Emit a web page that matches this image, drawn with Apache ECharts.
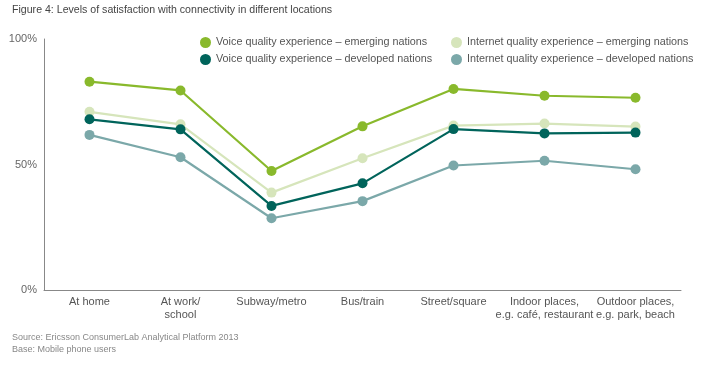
<!DOCTYPE html>
<html>
<head>
<meta charset="utf-8">
<script src="https://cdn.jsdelivr.net/npm/echarts@6/dist/echarts.min.js"></script>
<style>
html,body{margin:0;padding:0;background:#fff;}
#chart{width:717px;height:371px;}
</style>
</head>
<body>
<div id="chart"></div>
<script>
var categories = ['At home', 'At work/\nschool', 'Subway/metro', 'Bus/train', 'Street/square', 'Indoor places,\ne.g. café, restaurant', 'Outdoor places,\ne.g. park, beach'];
var voiceEmerging = [83, 79.5, 47.4, 65.2, 80.1, 77.4, 76.6];
var internetEmerging = [71, 66, 38.8, 52.5, 65.5, 66.3, 65.1];
var voiceDeveloped = [68, 64, 33.5, 42.5, 64.1, 62.4, 62.7];
var internetDeveloped = [61.8, 52.9, 28.6, 35.4, 49.6, 51.5, 48.1];
var yTicks = ['0%', '50%', '100%'];

var names = {
  ve: 'Voice quality experience – emerging nations',
  vd: 'Voice quality experience – developed nations',
  ie: 'Internet quality experience – emerging nations',
  id: 'Internet quality experience – developed nations'
};
var colors = {ve: '#89b92c', ie: '#d6e5bb', vd: '#00645b', id: '#7ba8a9'};

function mk(key, data) {
  return {
    name: names[key], type: 'line', data: data,
    symbol: 'circle', symbolSize: 10,
    itemStyle: {color: colors[key]},
    lineStyle: {color: colors[key], width: 2.2},
    emphasis: {disabled: true}, animation: false
  };
}

var chart = echarts.init(document.getElementById('chart'), null, {renderer: 'canvas'});
var legendText = {color: '#555', fontSize: 10.8, fontFamily: 'Liberation Sans, Arial, sans-serif'};
chart.setOption({
  animation: false,
  title: [
    {text: 'Figure 4: Levels of satisfaction with connectivity in different locations', left: 7, top: 0,
     textStyle: {fontSize: 10.6, fontWeight: 'normal', color: '#444', fontFamily: 'Liberation Sans, Arial, sans-serif'}},
    {text: 'Source: Ericsson ConsumerLab Analytical Platform 2013\nBase: Mobile phone users', left: 7, top: 327,
     textStyle: {fontSize: 9, fontWeight: 'normal', color: '#888', lineHeight: 11.5, fontFamily: 'Liberation Sans, Arial, sans-serif'}}
  ],
  legend: [
    {left: 195, top: 32, orient: 'vertical', itemGap: 6, icon: 'circle', itemWidth: 11, itemHeight: 11,
     data: [names.ve, names.vd], textStyle: legendText, selectedMode: false},
    {left: 446, top: 32, orient: 'vertical', itemGap: 6, icon: 'circle', itemWidth: 11, itemHeight: 11,
     data: [names.ie, names.id], textStyle: legendText, selectedMode: false}
  ],
  grid: {left: 44, top: 39, right: 36, bottom: 81, containLabel: false},
  xAxis: {
    type: 'category', data: categories, boundaryGap: true,
    axisLine: {lineStyle: {color: '#888', width: 1}},
    axisTick: {show: false},
    axisLabel: {color: '#555', fontSize: 11, margin: 5, lineHeight: 13, interval: 0,
      fontFamily: 'Liberation Sans, Arial, sans-serif'}
  },
  yAxis: {
    type: 'value', min: 0, max: 100, interval: 50,
    axisLine: {show: true, lineStyle: {color: '#888', width: 1}},
    axisTick: {show: false},
    splitLine: {show: false},
    axisLabel: {color: '#666', fontSize: 11, margin: 7, fontFamily: 'Liberation Sans, Arial, sans-serif',
      formatter: function (v) { return yTicks[Math.round(v / 50)]; }}
  },
  series: [
    mk('id', internetDeveloped),
    mk('ie', internetEmerging),
    mk('vd', voiceDeveloped),
    mk('ve', voiceEmerging)
  ]
});
</script>
</body>
</html>
